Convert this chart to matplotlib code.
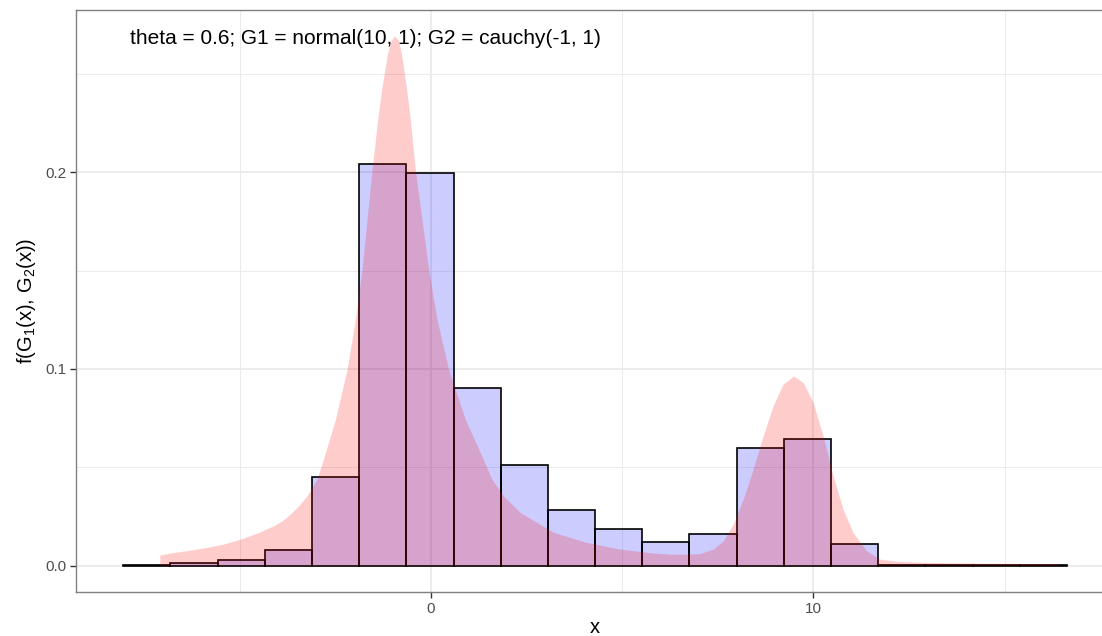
import numpy as np
import matplotlib
matplotlib.use("Agg")
import matplotlib.pyplot as plt

plt.rcParams['font.family'] = ['Liberation Sans', 'DejaVu Sans']
plt.rcParams['mathtext.fontset'] = 'custom'
plt.rcParams['mathtext.rm'] = 'Liberation Sans'
plt.rcParams['mathtext.it'] = 'Liberation Sans'

# histogram of the simulated sample (density scale), 20 equal bins
hist_start = -8.04
hist_end = 16.63
hist_density = [0.0004, 0.0012, 0.0029, 0.0080, 0.0448, 0.2044, 0.1997,
                0.0902, 0.0513, 0.0281, 0.0188, 0.0120, 0.0162, 0.0599,
                0.0643, 0.0112, 0.0004, 0.0002, 0.0002, 0.0004]

# mixture density curve
dens_x = [-7.07, -6.70, -6.27, -5.83, -5.40, -4.96, -4.53, -4.09, -3.87,
          -3.66, -3.44, -3.22, -2.959, -2.741, -2.48, -2.175, -1.958,
          -1.783, -1.653, -1.522, -1.376, -1.261, -1.115, -1.03, -0.93,
          -0.83, -0.757, -0.627, -0.522, -0.392, -0.217, -0.044, 0.175,
          0.478, 0.914, 1.305, 1.609, 1.91, 2.35, 3.22, 4.09, 4.96, 5.83,
          6.30, 6.70, 7.05, 7.40, 7.66, 7.92, 8.18, 8.44, 8.70, 8.96, 9.22,
          9.50, 9.75, 10.01, 10.27, 10.53, 10.79, 11.05, 11.40, 11.75,
          12.19, 13.0, 14.5, 16.4]
dens_y = [0.0051, 0.0064, 0.0076, 0.0090, 0.0107, 0.0132, 0.0162, 0.0200,
          0.0225, 0.0259, 0.0301, 0.0352, 0.0437, 0.0572, 0.0741, 0.0995,
          0.1249, 0.1503, 0.1756, 0.2010, 0.2264, 0.2433, 0.2603, 0.2665,
          0.2690, 0.2665, 0.2603, 0.2433, 0.2264, 0.2010, 0.1756, 0.1503,
          0.1249, 0.0995, 0.0741, 0.0572, 0.0437, 0.0352, 0.0267, 0.0166,
          0.0115, 0.0081, 0.0061, 0.0055, 0.0055, 0.0058, 0.0081, 0.0123,
          0.0208, 0.0335, 0.0487, 0.0656, 0.0809, 0.0919, 0.0961, 0.0927,
          0.0826, 0.0656, 0.0453, 0.0284, 0.0166, 0.0073, 0.0030, 0.0019,
          0.0013, 0.0009, 0.0007]

label = "theta = 0.6; G1 = normal(10, 1); G2 = cauchy(-1, 1)"

edges = np.linspace(hist_start, hist_end, len(hist_density) + 1)
width = edges[1] - edges[0]

fig = plt.figure(figsize=(11.02, 6.36), dpi=100)
ax = fig.add_axes([0.069, 0.0692, 0.942, 0.9151])

ax.bar(edges[:-1], hist_density, width=width, align='edge',
       facecolor=(0, 0, 1, 0.2), edgecolor='black', linewidth=1.2, zorder=2)
ax.fill_between(dens_x, dens_y, 0, facecolor=(1, 0, 0, 0.2),
                edgecolor='none', zorder=3)

ax.text(-1.71, 0.268, label, ha='center', va='center', fontsize=15,
        color='black', zorder=4)

span = hist_end - hist_start
ax.set_xlim(hist_start - 0.05 * span, hist_end + 0.05 * span)
top = max(dens_y)
ax.set_ylim(-0.05 * top, 1.05 * top)

ax.set_xticks([0, 10])
ax.set_xticks([-5, 5, 15], minor=True)
ax.set_yticks([0.0, 0.1, 0.2])
ax.set_yticklabels(['0.0', '0.1', '0.2'])
ax.set_yticks([0.05, 0.15, 0.25], minor=True)

ax.grid(which='major', color='#EBEBEB', linewidth=1.3, zorder=0)
ax.grid(which='minor', color='#EBEBEB', linewidth=0.7, zorder=0)
ax.set_axisbelow(True)

ax.tick_params(which='major', length=4, width=1, color='#333333',
               labelcolor='#4D4D4D', labelsize=11, pad=3)
ax.tick_params(which='minor', length=0)
for s in ax.spines.values():
    s.set_color('#808080')
    s.set_linewidth(1.0)

ax.set_xlabel('x', fontsize=14.5, labelpad=2)
ax.set_ylabel('f(G$_1$(x), G$_2$(x))', fontsize=14.5, labelpad=5)

fig.savefig('out.png', dpi=100)
